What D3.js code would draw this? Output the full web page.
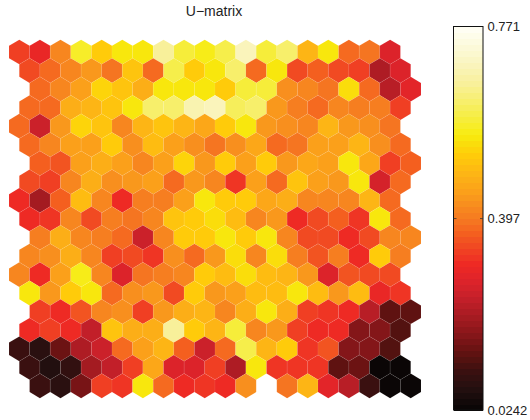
<!DOCTYPE html>
<html><head><meta charset="utf-8">
<script src="https://cdn.jsdelivr.net/npm/d3@7"></script>
<style>html,body{margin:0;padding:0;background:#fff}svg{display:block}text{font-family:"Liberation Sans",Arial,sans-serif;fill:#222}</style>
</head><body><div id="chart"></div>
<script>
const title = "U\u2212matrix";
const tickValues = [0.0242, 0.397, 0.771];
const tickLabels = ["0.0242", "0.397", "0.771"];
const rowOffsets = [0, 0.5, 1, 0.5];
// null = empty map unit
const row00 = [.33,.30,.42,.58,.52,.56,.55,.66,.585,.57,.60,.70,.585,.62,.48,.56,.38,.39,.28];
const row01 = [.35,.385,.42,.44,.39,.51,.385,.60,.52,.555,.63,.38,.56,.34,.37,.35,.335,.215,.28];
const row02 = [.38,.42,.455,.53,.505,.475,.55,.56,.555,.515,.59,.59,.43,.41,.395,.54,.385,.23,.285];
const row03 = [.38,.38,.47,.49,.505,.555,.62,.63,.68,.69,.61,.62,.44,.405,.375,.42,.405,.40,.335];
const row04 = [.385,.25,.44,.53,.505,.41,.49,.505,.49,.465,.515,.555,.44,.43,.41,.485,.44,.425,.395];
const row05 = [.385,.41,.455,.445,.515,.425,.495,.455,.43,.395,.43,.46,.38,.395,.45,.455,.48,.425,.375];
const row06 = [.37,.36,.45,.47,.45,.41,.45,.53,.44,.515,.45,.52,.44,.46,.455,.555,.46,.33,.37];
const row07 = [.34,.335,.41,.47,.43,.44,.455,.375,.44,.42,.325,.455,.385,.505,.45,.44,.56,.265,.375];
const row08 = [.31,.21,.37,.495,.41,.315,.405,.40,.455,.56,.525,.525,.46,.475,.42,.41,.42,.49,.38];
const row09 = [.305,.32,.41,.34,.405,.39,.41,.51,.52,.54,.50,.415,.44,.315,.35,.37,.32,.56,.375];
const row10 = [.405,.47,.42,.405,.38,.25,.41,.515,.52,.56,.52,.55,.42,.35,.35,.315,.345,.42,.42];
const row11 = [.41,.425,.47,.42,.335,.35,.32,.425,.38,.44,.545,.42,.54,.40,.36,.40,.315,.52,.40];
const row12 = [.41,.315,.45,.57,.41,.28,.39,.405,.42,.525,.50,.545,.50,.48,.44,.28,.36,.34,.34];
const row13 = [.56,.44,.525,.55,.375,.425,.44,.35,.525,.44,.445,.50,.50,.55,.50,.44,.50,.30,.32];
const row14 = [.33,.31,.355,.42,.425,.33,.44,.47,.48,.42,.47,.56,.475,.33,.32,.315,.23,.13,.135];
const row15 = [.31,.33,.315,.245,.505,.47,.475,.665,.52,.485,.59,.42,.44,.335,.305,.31,.165,.175,.125];
const row16 = [.10,.075,.15,.22,.25,.385,.455,.485,.37,.25,.38,.60,.485,.525,.325,.36,.165,.17,.125];
const row17 = [.095,.065,.09,.20,.245,.33,.465,.28,.27,.33,.22,.56,.32,.32,.325,.135,.15,.03,.035];
const row18 = [.095,.08,.155,.33,.325,.56,.38,.315,.32,.315,.43,null,.39,.48,.29,.23,.105,.035,.035];
const rows = [row00,row01,row02,row03,row04,row05,row06,row07,row08,row09,row10,row11,row12,row13,row14,row15,row16,row17,row18];

const rampStops  = [.0242,.07,.10,.13,.16,.20,.245,.28,.31,.34,.37,.39,.42,.45,.485,.52,.545,.56,.605,.66,.70,.771];
const rampColors = ["#070504","#251010","#3a1010","#5a1210","#7a1416","#a01a20","#c6202a","#e0232a","#ee2a24","#f04523","#f4601f","#f57421","#f78a1f","#fba01a","#fdb515","#ffcb0a","#fade0b","#f7ec0e","#f6ee50","#f8f09a","#faf5c0","#fffff8"];
const nLevels = 64;

const width = 530, height = 420;
const svg = d3.select("#chart").append("svg").attr("width", width).attr("height", height);

const ramp = d3.scaleLinear().domain(rampStops).range(rampColors).interpolate(d3.interpolateRgb);
const vMin = tickValues[0], vMax = tickValues[2];
const levels = d3.range(nLevels).map(i => ramp(vMin + (vMax - vMin) * (i + .5) / nLevels));
const color = d3.scaleQuantize().domain([vMin, vMax]).range(levels);

const x = d3.scaleLinear().domain([0, 18]).range([19.3, 390.1]);
const y = d3.scaleLinear().domain([0, 18]).range([52, 385.9]);
const colStep = x(1) - x(0), rowStep = y(1) - y(0);
const hx = colStep / 2, hyTop = rowStep * 2 / 3, hyMid = rowStep / 3;
const hexPath = (cx, cy) => d3.line()([
  [cx, cy - hyTop], [cx + hx, cy - hyMid], [cx + hx, cy + hyMid],
  [cx, cy + hyTop], [cx - hx, cy + hyMid], [cx - hx, cy - hyMid]
]) + "Z";

const cells = rows.flatMap((r, ri) => r.map((v, ci) => ({ r: ri, c: ci, v })));
svg.append("g").selectAll("path")
  .data(cells.filter(d => d.v !== null))
  .join("path")
  .attr("d", d => hexPath(x(d.c + rowOffsets[d.r % 4]), y(d.r)))
  .attr("fill", d => color(d.v))
  .attr("stroke", "#fff").attr("stroke-width", 0.35).attr("stroke-opacity", 0.18);

svg.append("text").attr("x", 214).attr("y", 16).attr("text-anchor", "middle")
  .attr("font-size", 14).text(title);

// colour bar
const barL = 453.5, barR = 483;
const barY = d3.scaleLinear().domain([vMin, vMax]).range([410, 26.5]);
const bar = svg.append("g").attr("shape-rendering", "crispEdges");
bar.selectAll("rect").data(levels).join("rect")
  .attr("x", barL).attr("width", barR - barL)
  .attr("y", (d, i) => barY(vMin + (vMax - vMin) * (i + 1) / nLevels))
  .attr("height", (barY.range()[0] - barY.range()[1]) / nLevels + 1)
  .attr("fill", d => d);
svg.append("rect").attr("x", barL).attr("y", barY(vMax)).attr("width", barR - barL)
  .attr("height", barY(vMin) - barY(vMax)).attr("fill", "none").attr("stroke", "#111").attr("stroke-width", 1);
const axis = d3.axisRight(barY).tickValues(tickValues).tickFormat((d, i) => tickLabels[i]).tickSize(0).tickPadding(0);
const ag = svg.append("g").attr("transform", `translate(487.5,0)`).call(axis);
ag.select(".domain").remove();
ag.selectAll("text").attr("font-size", 13).attr("font-family", null).style("fill", "#222");
[barL, barR - 3].forEach(px => svg.append("line").attr("x1", px).attr("x2", px + 3)
  .attr("y1", barY(tickValues[1])).attr("y2", barY(tickValues[1])).attr("stroke", "#333").attr("stroke-width", 0.8));
</script></body></html>
